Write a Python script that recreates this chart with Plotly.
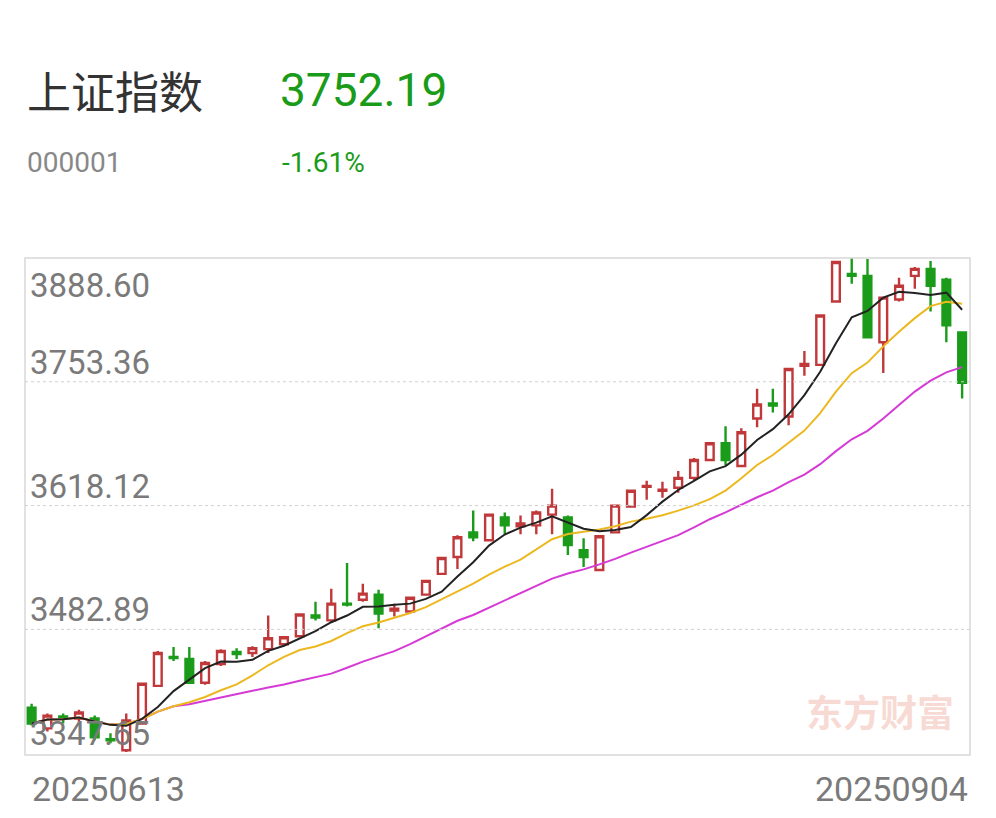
import plotly.graph_objects as go
import pandas as pd

opens = [3397.4,3374.7,3387.7,3385.5,3385.5,3362.8,3350.9,3380.1,3421.2,3452.7,
         3450.5,3424.6,3445.1,3458.1,3457.0,3461.3,3466.7,3475.4,3498.1,3492.7,
         3511.0,3515.3,3520.8,3503.5,3502.4,3520.8,3543.5,3561.9,3588.9,3580.3,
         3605.1,3595.4,3596.5,3608.3,3605.1,3569.5,3547.8,3588.9,3617.0,3638.6,
         3634.3,3637.6,3648.4,3667.9,3686.3,3661.4,3713.3,3729.6,3715.5,3770.7,
         3771.8,3841.0,3871.3,3869.1,3796.6,3843.2,3869.1,3876.7,3864.8,3807.4]
closes = [3380.1,3388.7,3385.5,3392.0,3365.0,3361.7,3383.4,3423.5,3457.0,3451.6,
          3424.6,3446.2,3459.2,3455.9,3462.4,3473.2,3474.3,3499.1,3495.9,3511.0,
          3509.9,3521.9,3500.2,3505.6,3517.5,3535.9,3560.8,3583.5,3583.5,3608.3,
          3596.5,3598.6,3610.5,3618.1,3574.9,3561.9,3584.6,3618.1,3634.3,3639.7,
          3635.4,3648.4,3667.9,3686.3,3667.9,3698.2,3728.5,3727.4,3767.4,3772.8,
          3825.8,3884.3,3869.1,3802.0,3845.3,3858.3,3876.7,3858.3,3815.0,3752.19]
highs = [3401.7,3390.9,3390.9,3395.2,3388.7,3369.3,3390.9,3424.6,3459.2,3463.5,
         3463.5,3448.4,3461.3,3462.4,3464.5,3498.1,3475.4,3500.2,3513.2,3527.3,
         3555.4,3532.7,3526.2,3511.0,3518.6,3537.0,3561.9,3585.7,3612.7,3609.4,
         3610.5,3607.3,3612.7,3636.5,3607.3,3582.4,3585.7,3619.2,3635.4,3645.2,
         3644.1,3656.0,3670.1,3687.4,3704.7,3702.5,3745.8,3745.8,3768.5,3786.9,
         3826.9,3885.4,3888.6,3887.5,3846.4,3867.0,3878.9,3885.4,3867.0,3808.5]
lows = [3378.0,3371.4,3380.1,3382.3,3361.7,3358.5,3348.8,3379.0,3420.2,3448.4,
        3423.5,3422.4,3442.9,3450.5,3452.7,3457.0,3464.5,3474.3,3492.7,3490.5,
        3507.8,3513.2,3484.0,3497.0,3501.3,3519.7,3542.4,3548.9,3579.2,3579.2,
        3586.8,3586.8,3586.8,3586.8,3564.1,3551.1,3546.7,3587.8,3615.9,3624.6,
        3626.8,3632.2,3646.2,3666.8,3662.5,3660.3,3703.6,3719.8,3705.8,3759.9,
        3770.7,3841.0,3860.5,3800.9,3763.1,3841.0,3855.0,3830.2,3796.6,3735.0]
date_labels = ["20250613", "20250904"]
y_ticks = [3888.60, 3753.36, 3618.12, 3482.89, 3347.65]

n = len(closes)
x = list(range(n))
s = pd.Series(closes)
ma5 = s.rolling(5, min_periods=1).mean()
ma10 = s.rolling(10, min_periods=1).mean()
ma20 = s.rolling(20, min_periods=1).mean()

RED = "#c0383a"
GREEN = "#1a9c1a"
fig = go.Figure()
fig.add_trace(go.Candlestick(
    x=x, open=opens, high=highs, low=lows, close=closes,
    increasing=dict(line=dict(color=RED, width=2.4), fillcolor="white"),
    decreasing=dict(line=dict(color=GREEN, width=2.4), fillcolor=GREEN),
    whiskerwidth=0, showlegend=False, hoverinfo="skip"))
fig.add_trace(go.Scatter(x=x, y=ma20, mode="lines", line=dict(color="#d63ad6", width=2), showlegend=False))
fig.add_trace(go.Scatter(x=x, y=ma10, mode="lines", line=dict(color="#ecb820", width=2), showlegend=False))
fig.add_trace(go.Scatter(x=x, y=ma5, mode="lines", line=dict(color="#222222", width=2), showlegend=False))

ylo, yhi = y_ticks[-1] - 2, y_ticks[0]
shapes = [dict(type="rect", xref="paper", yref="paper", x0=0, x1=1, y0=0, y1=1,
               line=dict(color="#d8d8d8", width=1.5))]
for v in y_ticks[1:4]:
    shapes.append(dict(type="line", xref="paper", yref="y", x0=0, x1=1, y0=v, y1=v,
                       line=dict(color="#d0d0d0", width=1, dash="dot")))

ann = []
for i, v in enumerate(y_ticks):
    ann.append(dict(xref="paper", yref="y", x=0.003, y=v, xanchor="left",
                    yanchor="top" if i == 0 else "bottom", yshift=-6 if i == 0 else -2,
                    text=f"{v:.2f}", showarrow=False,
                    font=dict(size=33, color="#7a7a7a", family="Roboto")))
ann += [
    dict(xref="paper", yref="paper", x=0.005, y=-0.025, xanchor="left", yanchor="top",
         text=date_labels[0], showarrow=False, font=dict(size=34, color="#7a7a7a", family="Roboto")),
    dict(xref="paper", yref="paper", x=1.0, y=-0.025, xanchor="right", yanchor="top",
         text=date_labels[1], showarrow=False, font=dict(size=34, color="#7a7a7a", family="Roboto")),
    dict(xref="paper", yref="paper", x=0.985, y=0.03, xanchor="right", yanchor="bottom",
         text="<b>东方财富</b>", showarrow=False, font=dict(size=37, color="rgba(235,150,130,0.35)", family="Noto Sans CJK SC")),
]
page = [
    (25, 90, "上证指数", 44, "#333333", "Noto Sans CJK SC"),
    (278, 90, "3752.19", 46, GREEN, "Roboto"),
    (25, 162, "000001", 28, "#888888", "Roboto"),
    (280, 162, "-1.61%", 28, GREEN, "Roboto"),
]
for px, py, t, sz, c, fam in page:
    ann.append(dict(xref="paper", yref="paper", x=(px - 25) / 945, y=(755 - py) / 497,
                    xanchor="left", yanchor="middle", text=t, showarrow=False,
                    font=dict(size=sz, color=c, family=fam)))

fig.update_layout(
    width=996, height=818, margin=dict(l=17, r=34, t=250, b=71),
    paper_bgcolor="white", plot_bgcolor="white",
    xaxis=dict(range=[-0.42, n - 0.5], showticklabels=False, showgrid=False, zeroline=False,
               rangeslider=dict(visible=False), fixedrange=True),
    yaxis=dict(range=[ylo, yhi], showticklabels=False, showgrid=False, zeroline=False),
    shapes=shapes, annotations=ann, showlegend=False)
fig.write_html("out.html")
